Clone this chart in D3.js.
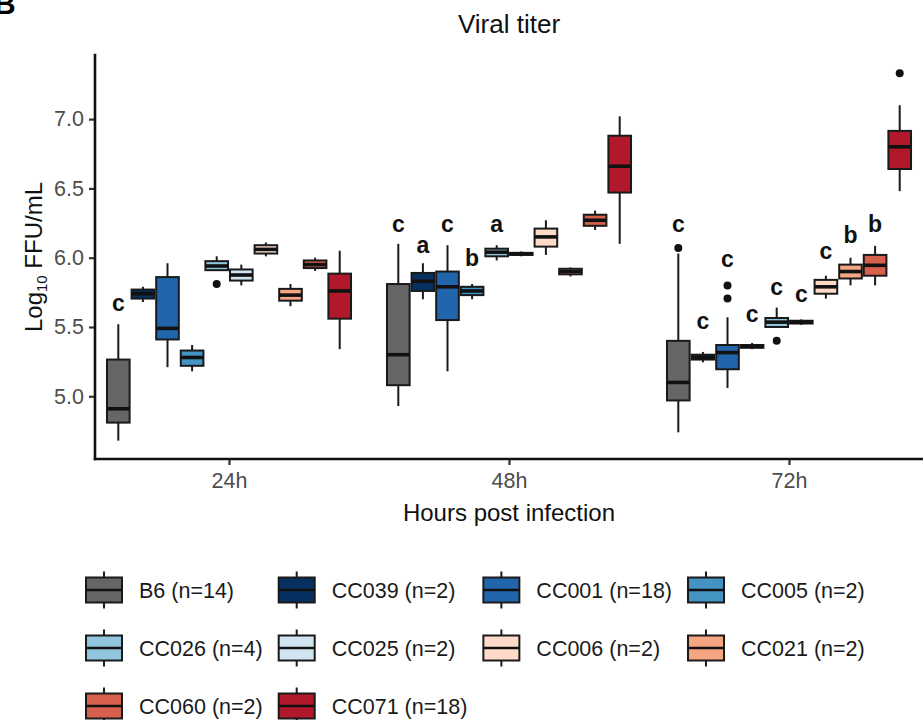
<!DOCTYPE html>
<html><head><meta charset="utf-8">
<script src="https://cdn.jsdelivr.net/npm/d3@7"></script>
<style>
body{margin:0;background:#fff}
svg{display:block;font-family:"Liberation Sans",Arial,Helvetica,sans-serif}
</style>
</head><body>
<svg id="chart" width="923" height="720"></svg>
<script>
// ---------------- data ----------------
const times = ["24h", "48h", "72h"];
const strains = ["B6","CC039","CC001","CC005","CC026","CC025","CC006","CC021","CC060","CC071"];
const counts = [14, 2, 18, 2, 4, 2, 2, 2, 2, 18];
const palette = ["#666666","#053061","#2166AC","#4393C3","#92C5DE","#D1E5F0","#FDDBC7","#F4A582","#D6604D","#B2182B"];
const yTicks = [5.0, 5.5, 6.0, 6.5, 7.0];

// rows: time (24h, 48h, 72h); columns: strains in the order above
const whiskerLow = [
  [4.68, 5.68, 5.21, 5.18, 5.905, 5.80, 6.01, 5.65, 5.905, 5.34],
  [4.93, 5.70, 5.18, 5.70, 5.98, 6.01, 6.02, 5.865, 6.20, 6.10],
  [4.74, 5.245, 5.06, 5.34, 5.50, 5.515, 5.705, 5.80, 5.80, 6.48]
];
const q1 = [
  [4.81, 5.705, 5.41, 5.22, 5.91, 5.835, 6.03, 5.69, 5.925, 5.56],
  [5.08, 5.76, 5.55, 5.73, 6.01, 6.02, 6.08, 5.88, 6.23, 6.47],
  [4.97, 5.265, 5.195, 5.35, 5.50, 5.525, 5.74, 5.85, 5.87, 6.64]
];
const median = [
  [4.91, 5.74, 5.49, 5.28, 5.94, 5.875, 6.06, 5.73, 5.95, 5.76],
  [5.30, 5.83, 5.79, 5.76, 6.04, 6.028, 6.15, 5.90, 6.27, 6.66],
  [5.10, 5.28, 5.315, 5.36, 5.535, 5.535, 5.79, 5.90, 5.945, 6.80]
];
const q3 = [
  [5.265, 5.77, 5.86, 5.33, 5.975, 5.915, 6.09, 5.775, 5.98, 5.885],
  [5.81, 5.89, 5.90, 5.79, 6.065, 6.035, 6.21, 5.92, 6.31, 6.88],
  [5.40, 5.30, 5.37, 5.37, 5.565, 5.545, 5.84, 5.95, 6.02, 6.915]
];
const whiskerHigh = [
  [5.52, 5.79, 5.96, 5.37, 6.01, 5.95, 6.11, 5.81, 6.00, 6.05],
  [6.10, 5.96, 6.09, 5.81, 6.09, 6.045, 6.27, 5.93, 6.34, 7.02],
  [6.03, 5.32, 5.57, 5.385, 5.64, 5.555, 5.87, 6.00, 6.085, 7.10]
];
const outliers = [
  [[], [], [], [], [5.81], [], [], [], [], []],
  [[], [], [], [], [], [], [], [], [], []],
  [[6.07], [], [5.705, 5.80], [], [5.40], [], [], [], [], [7.33]]
];
const letters = [
  ["c", "", "", "", "", "", "", "", "", ""],
  ["c", "a", "c", "b", "a", "", "", "", "", ""],
  ["c", "c", "c", "c", "c", "c", "c", "b", "b", ""]
];
const letterY = [
  [5.616, null, null, null, null, null, null, null, null, null],
  [6.186, 6.035, 6.186, 5.941, 6.186, null, null, null, null, null],
  [6.186, 5.489, 5.934, 5.536, 5.734, 5.681, 5.994, 6.107, 6.186, null]
];

// ---------------- layout ----------------
const svg = d3.select("#chart");
const panel = {left: 95, right: 923, top: 55, bottom: 459};
const groupHalf = 110.7;       // half span of dodged box centres
const boxFrac = 0.92;

const boxes = [];
times.forEach((t, ti) => strains.forEach((s, si) => boxes.push({
  t, s, si,
  lo: whiskerLow[ti][si], q1: q1[ti][si], med: median[ti][si], q3: q3[ti][si], hi: whiskerHigh[ti][si],
  out: outliers[ti][si], letter: letters[ti][si], ly: letterY[ti][si]
})));

const allVals = boxes.flatMap(b => [b.lo, b.hi, ...b.out]);
const ext = d3.extent(allVals);
const padY = (ext[1] - ext[0]) * 0.05;
const y = d3.scaleLinear().domain([ext[0] - padY, ext[1] + padY]).range([panel.bottom, panel.top]);

const x = d3.scalePoint().domain(times).range([229, 789]);
const xin = d3.scalePoint().domain(strains).range([-groupHalf, groupHalf]);
const bw = xin.step() * boxFrac;
const color = d3.scaleOrdinal().domain(strains).range(palette);

// ---------------- title ----------------
svg.append("text").attr("x", -6).attr("y", 14).attr("font-size", 30).attr("font-weight", "bold").text("B");
svg.append("text").attr("x", (panel.left + panel.right) / 2).attr("y", 33)
  .attr("text-anchor", "middle").attr("font-size", 26).attr("fill", "#111").text("Viral titer");

// ---------------- axes ----------------
const yAxis = svg.append("g").attr("transform", `translate(${panel.left},0)`)
  .call(d3.axisLeft(y).tickValues(yTicks).tickFormat(d3.format(".1f")).tickSize(6).tickPadding(5));
yAxis.select(".domain").remove();
yAxis.selectAll(".tick line").attr("stroke", "#333").attr("stroke-width", 2.2);
yAxis.selectAll(".tick text").attr("font-size", 21.5).attr("fill", "#4d4d4d").attr("font-family", "Liberation Sans, Arial, sans-serif");

const xAxis = svg.append("g").attr("transform", `translate(0,${panel.bottom})`)
  .call(d3.axisBottom(x).tickSize(6).tickPadding(8));
xAxis.select(".domain").remove();
xAxis.selectAll(".tick line").attr("stroke", "#333").attr("stroke-width", 2.2);
xAxis.selectAll(".tick text").attr("font-size", 21.5).attr("fill", "#4d4d4d").attr("font-family", "Liberation Sans, Arial, sans-serif");

svg.append("line").attr("x1", panel.left).attr("x2", panel.left).attr("y1", panel.top).attr("y2", panel.bottom)
  .attr("stroke", "#111").attr("stroke-width", 2.6).attr("stroke-linecap", "square");
svg.append("line").attr("x1", panel.left).attr("x2", panel.right).attr("y1", panel.bottom).attr("y2", panel.bottom)
  .attr("stroke", "#111").attr("stroke-width", 2.6).attr("stroke-linecap", "square");

svg.append("text").attr("x", (panel.left + panel.right) / 2).attr("y", 521)
  .attr("text-anchor", "middle").attr("font-size", 24).attr("fill", "#111").text("Hours post infection");

const yt = svg.append("text").attr("transform", `translate(42,${(panel.top + panel.bottom) / 2}) rotate(-90)`)
  .attr("text-anchor", "middle").attr("font-size", 24).attr("fill", "#111");
yt.append("tspan").text("Log");
yt.append("tspan").attr("font-size", 15).attr("dy", 5).text("10");
yt.append("tspan").attr("dy", -5).text(" FFU/mL");

// ---------------- boxes ----------------
const g = svg.append("g");
const bx = b => x(b.t) + xin(b.s);
const stroke = "#1a1a1a";

const bg = g.selectAll("g.box").data(boxes).join("g").attr("class", "box");
bg.append("line").attr("x1", bx).attr("x2", bx).attr("y1", b => y(b.hi)).attr("y2", b => y(b.q3))
  .attr("stroke", stroke).attr("stroke-width", 2);
bg.append("line").attr("x1", bx).attr("x2", bx).attr("y1", b => y(b.q1)).attr("y2", b => y(b.lo))
  .attr("stroke", stroke).attr("stroke-width", 2);
bg.append("rect").attr("x", b => bx(b) - bw / 2).attr("width", bw)
  .attr("y", b => y(b.q3)).attr("height", b => Math.max(0, y(b.q1) - y(b.q3)))
  .attr("fill", b => color(b.s)).attr("stroke", stroke).attr("stroke-width", 2);
bg.append("line").attr("x1", b => bx(b) - bw / 2).attr("x2", b => bx(b) + bw / 2)
  .attr("y1", b => y(b.med)).attr("y2", b => y(b.med)).attr("stroke", "#111").attr("stroke-width", 3.6);
bg.selectAll("circle").data(b => b.out.map(v => ({v, b}))).join("circle")
  .attr("cx", d => bx(d.b)).attr("cy", d => y(d.v)).attr("r", 4).attr("fill", "#111");

g.selectAll("text.letter").data(boxes.filter(b => b.letter)).join("text").attr("class", "letter")
  .attr("x", bx).attr("y", b => y(b.ly)).attr("text-anchor", "middle")
  .attr("font-size", 23).attr("font-weight", "bold").attr("fill", "#111").text(b => b.letter);

// ---------------- legend ----------------
const legend = svg.append("g");
const nCol = 4, keyW = 36, keyBoxH = 25, keyWhisk = 18.5, textGap = 17, colGap = 16;
const rowY = [590, 648, 706];
const legendLeft = 86;
const labels = strains.map((s, i) => `${s} (n=${counts[i]})`);
// measure text widths
const meas = svg.append("text").attr("font-size", 21.5);
const widths = labels.map(l => { meas.text(l); return meas.node().getComputedTextLength(); });
meas.remove();
const colW = d3.range(nCol).map(c => d3.max(labels.map((l, i) => i % nCol === c ? widths[i] : 0)));
const colX = [legendLeft];
for (let c = 1; c < nCol; c++) colX.push(colX[c - 1] + keyW + textGap + colW[c - 1] + colGap);

strains.forEach((s, i) => {
  const c = i % nCol, r = Math.floor(i / nCol);
  const kx = colX[c], cy = rowY[r], kcx = kx + keyW / 2;
  const k = legend.append("g");
  k.append("line").attr("x1", kcx).attr("x2", kcx).attr("y1", cy - keyWhisk).attr("y2", cy + keyWhisk)
    .attr("stroke", stroke).attr("stroke-width", 2);
  k.append("rect").attr("x", kx).attr("y", cy - keyBoxH / 2).attr("width", keyW).attr("height", keyBoxH)
    .attr("fill", color(s)).attr("stroke", stroke).attr("stroke-width", 2);
  k.append("line").attr("x1", kx).attr("x2", kx + keyW).attr("y1", cy).attr("y2", cy)
    .attr("stroke", "#111").attr("stroke-width", 2.6);
  k.append("text").attr("x", kx + keyW + textGap).attr("y", cy + 7.7).attr("font-size", 21.5)
    .attr("fill", "#1a1a1a").text(labels[i]);
});
</script>
</body></html>
